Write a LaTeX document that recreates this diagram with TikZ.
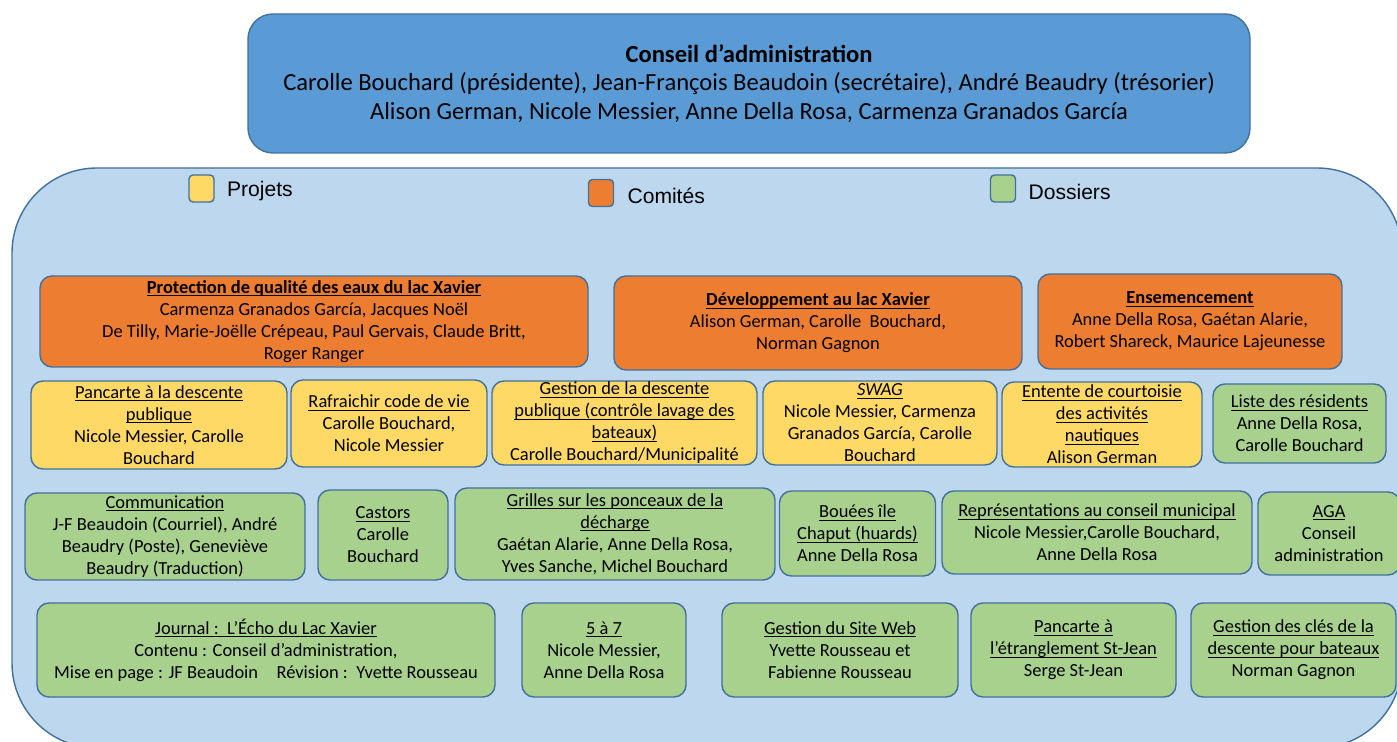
\documentclass[tikz,border=0pt]{standalone}
\usepackage{fontspec}
\setmainfont{Carlito}
\newfontfamily\arial{Liberation Sans}
\usetikzlibrary{positioning}
\definecolor{bordure}{HTML}{41719C}
\definecolor{bleu}{HTML}{5B9BD5}
\definecolor{bleupale}{HTML}{BDD7EE}
\definecolor{orange}{HTML}{ED7D31}
\definecolor{jaune}{HTML}{FFD966}
\definecolor{vert}{HTML}{A9D18E}
\newlength\px
\setlength\px{0.02cm}
\newcommand\souligne[1]{\setbox0\hbox{#1}\rlap{\rule[-1.6pt]{\wd0}{0.55pt}}\box0}
\tikzset{
	boite/.style={draw=bordure, line width=0.8pt, rounded corners=12\px, align=center, inner sep=0pt, font=\fontsize{10.5}{12.5}\selectfont},
	comite/.style={boite, fill=orange},
	projet/.style={boite, fill=jaune},
	dossier/.style={boite, fill=vert},
	taille/.style 2 args={minimum width=#1\px, minimum height=#2\px},
	pastille/.style={draw=bordure, line width=0.8pt, rounded corners=4\px, minimum width=25\px, minimum height=27\px, inner sep=0pt},
	legende/.style={inner sep=0pt, font=\arial\fontsize{12}{14}\selectfont},
}
\begin{document}
\begin{tikzpicture}[x=0.02cm, y=-0.02cm]
	\useasboundingbox (0,0) rectangle (1397,742);
	\clip (0,0) rectangle (1397,742);
	\node[boite, fill=bleu, rounded corners=25\px, taille={1002}{139}, font=\fontsize{14}{16.2}\selectfont] (conseil) at (749,83.5)
		{\textbf{Conseil d’administration}\\Carolle Bouchard (présidente), Jean-François Beaudoin (secrétaire), André Beaudry (trésorier)\\Alison German, Nicole Messier, Anne Della Rosa, Carmenza Granados García};
	\draw[draw=bordure, line width=0.8pt, fill=bleupale, rounded corners=85\px] (12,168) rectangle (1402,748);
	\node[pastille, fill=jaune] (pprojets) at (201.5,188.5) {};
	\node[legende, right=12\px of pprojets, yshift=-3\px] (lprojets) {Projets};
	\node[pastille, fill=orange] (pcomites) at (601,193) {};
	\node[legende, right=13\px of pcomites, yshift=-3\px] (lcomites) {Comités};
	\node[pastille, fill=vert] (pdossiers) at (1003,188.5) {};
	\node[legende, right=12\px of pdossiers, yshift=-3\px] (ldossiers) {Dossiers};
	\node[comite, taille={548}{91}] (protection) at (314,321.5)
		{\textbf{\souligne{Protection de qualité des eaux du lac Xavier}}\\Carmenza Granados García, Jacques Noël\\De Tilly, Marie-Joëlle Crépeau, Paul Gervais, Claude Britt,\\Roger Ranger};
	\node[comite, taille={408}{94}] (developpement) at (818,323)
		{\textbf{\souligne{Développement au lac Xavier}}\\Alison German, Carolle\ \ Bouchard,\\Norman Gagnon};
	\node[comite, taille={304}{95}] (ensemencement) at (1190,321.5)
		{\textbf{\souligne{Ensemencement}}\\Anne Della Rosa, Gaétan Alarie,\\Robert Shareck, Maurice Lajeunesse};
	\node[projet, taille={256}{88}] (pancarte) at (159,425)
		{\souligne{Pancarte à la descente}\\\souligne{publique}\\Nicole Messier, Carolle\\Bouchard};
	\node[projet, taille={196}{87}] (rafraichir) at (389,423.5)
		{\souligne{Rafraichir code de vie}\\Carolle Bouchard,\\Nicole Messier};
	\node[projet, taille={265}{84}] (descente) at (624.5,423)
		{\souligne{Gestion de la descente}\\\souligne{publique (contrôle lavage des}\\\souligne{bateaux)}\\Carolle Bouchard/Municipalité};
	\node[projet, taille={234}{84}] (swag) at (880,423)
		{\souligne{\textit{SWAG}}\\Nicole Messier, Carmenza\\Granados García, Carolle\\Bouchard};
	\node[projet, taille={200}{85}] (entente) at (1102,424.5)
		{\souligne{Entente de courtoisie}\\\souligne{des activités}\\\souligne{nautiques}\\Alison German};
	\node[dossier, taille={173}{79}] (residents) at (1299.5,423.5)
		{\souligne{Liste des résidents}\\Anne Della Rosa,\\Carolle Bouchard};
	\node[dossier, taille={280}{87}] (communication) at (165,536.5)
		{\souligne{Communication}\\J-F Beaudoin (Courriel), André\\Beaudry (Poste), Geneviève\\Beaudry (Traduction)};
	\node[dossier, taille={130}{90}] (castors) at (383,535)
		{\souligne{Castors}\\Carolle\\Bouchard};
	\node[dossier, taille={320}{92}] (grilles) at (615,534)
		{\souligne{Grilles sur les ponceaux de la}\\\souligne{décharge}\\Gaétan Alarie, Anne Della Rosa,\\Yves Sanche, Michel Bouchard};
	\node[dossier, taille={156}{85}] (bouees) at (857.5,533.5)
		{\souligne{Bouées île}\\\souligne{Chaput (huards)}\\Anne Della Rosa};
	\node[dossier, taille={310}{83}] (representations) at (1097,532.5)
		{\souligne{Représentations au conseil municipal}\\Nicole Messier,Carolle Bouchard,\\Anne Della Rosa};
	\node[dossier, taille={142}{83}] (aga) at (1329,533.5)
		{\souligne{AGA}\\Conseil\\administration};
	\node[dossier, taille={458}{94}] (journal) at (266,650)
		{\souligne{Journal :\ \ L’Écho du Lac Xavier}\\Contenu : Conseil d’administration,\\Mise en page : JF Beaudoin\quad Révision :\ \ Yvette Rousseau};
	\node[dossier, taille={164}{94}] (cinqasept) at (604,650)
		{\souligne{5 à 7}\\Nicole Messier,\\Anne Della Rosa};
	\node[dossier, taille={236}{94}] (siteweb) at (840,650)
		{\souligne{Gestion du Site Web}\\Yvette Rousseau et\\Fabienne Rousseau};
	\node[dossier, taille={205}{94}] (etranglement) at (1073.5,650)
		{\souligne{Pancarte à}\\\souligne{l’étranglement St-Jean}\\Serge St-Jean};
	\node[dossier, taille={205}{94}] (cles) at (1293.5,650)
		{\souligne{Gestion des clés de la}\\\souligne{descente pour bateaux}\\Norman Gagnon};
\end{tikzpicture}
\end{document}
